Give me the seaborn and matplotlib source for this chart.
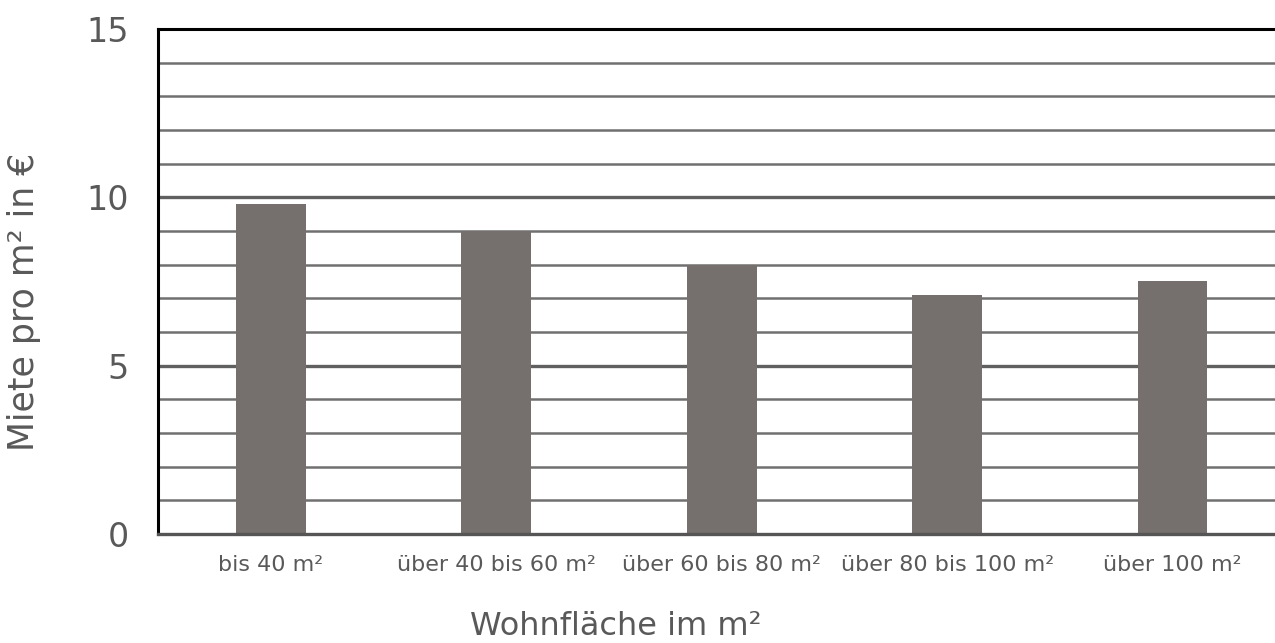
import matplotlib
matplotlib.use('Agg')
import matplotlib.pyplot as plt
import seaborn as sns
import pandas as pd

# Data
categories = ['bis 40 m²', 'über 40 bis 60 m²', 'über 60 bis 80 m²',
              'über 80 bis 100 m²', 'über 100 m²']
rent_per_m2 = [9.8, 9.0, 8.0, 7.1, 7.5]
y_ticks = [0, 5, 10, 15]

df = pd.DataFrame({'flaeche': categories, 'miete': rent_per_m2})

sns.set_style('white')
plt.rcParams['font.family'] = ['DejaVu Sans']
text_color = '#595959'

fig = plt.figure(figsize=(12.75, 6.43), dpi=100)
ax = fig.add_axes([0.124, 0.1695, 0.884, 0.7855])

# minor gridlines every 1, major every 5
for v in range(1, 15):
    lw = 2.4 if v % 5 == 0 else 1.8
    col = '#606060' if v % 5 == 0 else '#707070'
    ax.axhline(v, color=col, linewidth=lw, zorder=0)

sns.barplot(data=df, x='flaeche', y='miete', color='#756f6d',
            width=0.31, saturation=1, linewidth=0, edgecolor='none',
            ax=ax, zorder=2)

ax.set_xlim(-0.5, 4.5)
ax.set_ylim(0, 15)
ax.set_yticks(y_ticks)
ax.tick_params(axis='y', length=0, pad=21, labelsize=24, labelcolor=text_color)
ax.tick_params(axis='x', length=0, pad=15, labelsize=16, labelcolor=text_color)

ax.set_xlabel('Wohnfläche im m²', fontsize=23, color=text_color)
ax.set_ylabel('Miete pro m² in €', fontsize=25, color=text_color)
# labels sit off-centre in the original
ax.xaxis.set_label_coords(0.406, -0.152)
ax.yaxis.set_label_coords(-0.104, 0.459)

ax.spines['right'].set_visible(False)
ax.spines['top'].set_color('black')
ax.spines['top'].set_linewidth(2.2)
ax.spines['left'].set_color('black')
ax.spines['left'].set_linewidth(2.2)
ax.spines['bottom'].set_color('#555555')
ax.spines['bottom'].set_linewidth(2.4)

fig.savefig('out.png', dpi=100)
